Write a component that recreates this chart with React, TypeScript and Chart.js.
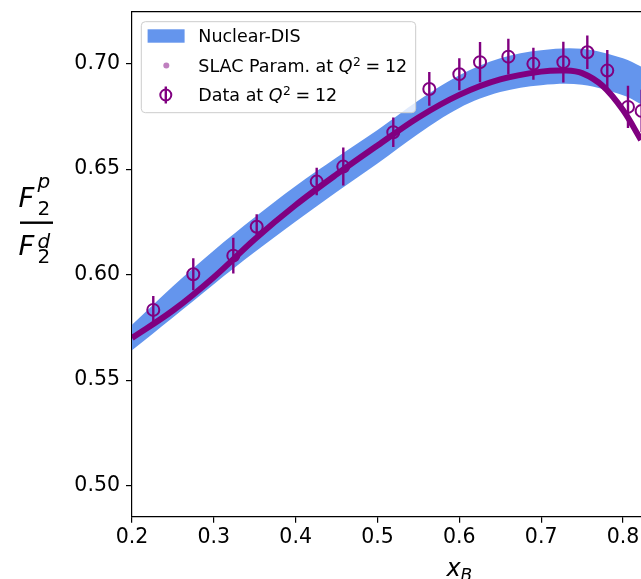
import React, { useEffect, useRef } from "react";
import { Chart, registerables } from "chart.js";

Chart.register(...registerables);

// ---- axis ranges & ticks ----
const X_MIN = 0.2;
const X_MAX = 0.822;
const Y_MIN = 0.4853;
const Y_MAX = 0.7246;
const X_STEP = 0.1;
const Y_STEP = 0.05;
const X_LABEL_CENTER = 0.6; // centre of the full (cropped) x axis

// ---- Nuclear-DIS band ----
const bandX = [0.2, 0.25, 0.3, 0.35, 0.4, 0.45, 0.5, 0.55, 0.6, 0.65, 0.7, 0.75, 0.8, 0.822];
const bandUpper = [0.5762, 0.5945, 0.6115, 0.6272, 0.642, 0.6555, 0.6685, 0.6825, 0.6945, 0.7025, 0.7063, 0.707, 0.7025, 0.6986];
const bandLower = [0.5642, 0.5797, 0.5955, 0.6107, 0.6252, 0.6392, 0.6527, 0.6668, 0.679, 0.6865, 0.6898, 0.69, 0.685, 0.6808];

// ---- SLAC parametrisation at Q^2 = 12 ----
const slacX = [0.2, 0.25, 0.3, 0.35, 0.4, 0.45, 0.5, 0.55, 0.6, 0.65, 0.7, 0.73, 0.75, 0.775, 0.8, 0.822];
const slacY = [0.57, 0.583, 0.5988, 0.6168, 0.633, 0.6475, 0.6612, 0.6745, 0.6852, 0.6925, 0.6962, 0.6967, 0.6955, 0.6895, 0.678, 0.6638];

// ---- Data at Q^2 = 12 ----
const dataX = [0.226, 0.2749, 0.3238, 0.3524, 0.4257, 0.4582, 0.5193, 0.5633, 0.6, 0.6253, 0.6599, 0.6905, 0.7271, 0.7564, 0.7808, 0.8061, 0.8228];
const dataY = [0.5833, 0.6002, 0.609, 0.6227, 0.6441, 0.6512, 0.6675, 0.688, 0.695, 0.7007, 0.7033, 0.6999, 0.7007, 0.7054, 0.6967, 0.6795, 0.6776];
const dataErr = [0.0066, 0.0076, 0.0085, 0.0059, 0.0065, 0.009, 0.007, 0.008, 0.0076, 0.0095, 0.0085, 0.0076, 0.0097, 0.0079, 0.0097, 0.01, 0.01];

const legendLabels = ["Nuclear-DIS", "SLAC Param. at ", "Data at "];

const PURPLE = "#800080";
const BLUE = "#6495ED";
const FONT = "'DejaVu Sans', 'Liberation Sans', sans-serif";

function drawQ2(ctx: CanvasRenderingContext2D, x: number, baseline: number, fs: number, draw: boolean): number {
  let cx = x;
  ctx.font = `italic ${fs}px ${FONT}`;
  if (draw) ctx.fillText("Q", cx, baseline);
  cx += ctx.measureText("Q").width + 0.5;
  ctx.font = `${fs * 0.7}px ${FONT}`;
  if (draw) ctx.fillText("2", cx, baseline - fs * 0.36);
  cx += ctx.measureText("2").width;
  ctx.font = `${fs}px ${FONT}`;
  cx += fs * 0.27;
  if (draw) ctx.fillText("=", cx, baseline);
  cx += ctx.measureText("=").width + fs * 0.27;
  if (draw) ctx.fillText("12", cx, baseline);
  cx += ctx.measureText("12").width;
  return cx - x;
}

const errorBarPlugin = {
  id: "errorBars",
  afterDatasetDraw(chart: any, args: any) {
    if (args.index !== 1) return;
    const { ctx, chartArea } = chart;
    const xs = chart.scales.x;
    const ys = chart.scales.y;
    ctx.save();
    ctx.beginPath();
    ctx.rect(chartArea.left, chartArea.top, chartArea.right - chartArea.left + 20, chartArea.bottom - chartArea.top);
    ctx.clip();
    ctx.strokeStyle = PURPLE;
    ctx.lineWidth = 2.4;
    dataX.forEach((x, i) => {
      const px = xs.getPixelForValue(x);
      ctx.beginPath();
      ctx.moveTo(px, ys.getPixelForValue(dataY[i] - dataErr[i]));
      ctx.lineTo(px, ys.getPixelForValue(dataY[i] + dataErr[i]));
      ctx.stroke();
    });
    ctx.restore();
  },
};

const decorPlugin = {
  id: "decor",
  afterDraw(chart: any) {
    const { ctx, chartArea } = chart;
    const xs = chart.scales.x;
    ctx.save();
    // top spine
    ctx.strokeStyle = "#000";
    ctx.lineWidth = 1.2;
    ctx.beginPath();
    ctx.moveTo(chartArea.left - 0.6, chartArea.top);
    ctx.lineTo(chartArea.right + 1, chartArea.top);
    ctx.stroke();

    ctx.fillStyle = "#000";
    ctx.textBaseline = "alphabetic";
    ctx.textAlign = "left";

    // y label: F_2^p / F_2^d
    const bx = chartArea.left - 112;
    const by = chartArea.top + 211;
    ctx.fillRect(bx, by - 1.2, 33, 2.4);
    const bigF = `italic 27.4px ${FONT}`;
    const supF = `italic 20px ${FONT}`;
    const subF = `20px ${FONT}`;
    ctx.font = bigF;
    ctx.fillText("F", bx - 1.5, by - 16);
    ctx.fillText("F", bx - 1.5, by + 32.3);
    ctx.font = supF;
    ctx.fillText("p", bx + 17.5, by - 34.5);
    ctx.fillText("d", bx + 17.5, by + 25.3);
    ctx.font = subF;
    ctx.fillText("2", bx + 17.5, by - 7.7);
    ctx.fillText("2", bx + 17.5, by + 40.3);

    // x label: x_B
    const cx = xs.getPixelForValue(X_LABEL_CENTER);
    ctx.font = `italic 24px ${FONT}`;
    const wx = ctx.measureText("x").width;
    ctx.font = `italic 17px ${FONT}`;
    const wb = ctx.measureText("B").width;
    const startX = cx - (wx + wb) / 2;
    const base = chartArea.bottom + 59.5;
    ctx.font = `italic 24px ${FONT}`;
    ctx.fillText("x", startX, base);
    ctx.font = `italic 17px ${FONT}`;
    ctx.fillText("B", startX + wx, base + 5);

    // legend
    const fs = 17.5;
    const lx = chartArea.left + 9.3;
    const ly = chartArea.top + 10;
    const textX = lx + 57;
    ctx.font = `${fs}px ${FONT}`;
    const w0 = ctx.measureText(legendLabels[0]).width;
    const w1 = ctx.measureText(legendLabels[1]).width + drawQ2(ctx, 0, 0, fs, false);
    ctx.font = `${fs}px ${FONT}`;
    const w2 = ctx.measureText(legendLabels[2]).width + drawQ2(ctx, 0, 0, fs, false);
    const lw = textX - lx + Math.max(w0, w1, w2) + 8.5;
    const lh = 91;
    ctx.beginPath();
    ctx.roundRect(lx, ly, lw, lh, 4);
    ctx.fillStyle = "rgba(255,255,255,0.8)";
    ctx.fill();
    ctx.strokeStyle = "#cccccc";
    ctx.lineWidth = 1;
    ctx.stroke();

    const rows = [ly + 14.3, ly + 43.8, ly + 73.3];
    const off = fs * 0.365;
    // row 1
    ctx.fillStyle = BLUE;
    ctx.fillRect(lx + 6.3, rows[0] - 6.7, 37, 13.4);
    ctx.fillStyle = "#000";
    ctx.font = `${fs}px ${FONT}`;
    ctx.fillText(legendLabels[0], textX, rows[0] + off);
    // row 2
    ctx.fillStyle = "rgba(128,0,128,0.5)";
    ctx.beginPath();
    ctx.arc(lx + 25, rows[1], 3, 0, Math.PI * 2);
    ctx.fill();
    ctx.fillStyle = "#000";
    ctx.font = `${fs}px ${FONT}`;
    ctx.fillText(legendLabels[1], textX, rows[1] + off);
    const t1 = ctx.measureText(legendLabels[1]).width;
    drawQ2(ctx, textX + t1, rows[1] + off, fs, true);
    // row 3
    ctx.strokeStyle = PURPLE;
    ctx.lineWidth = 2.4;
    ctx.beginPath();
    ctx.moveTo(lx + 24.5, rows[2] - 8.5);
    ctx.lineTo(lx + 24.5, rows[2] + 8.5);
    ctx.stroke();
    ctx.lineWidth = 2;
    ctx.beginPath();
    ctx.arc(lx + 24.5, rows[2], 5.5, 0, Math.PI * 2);
    ctx.stroke();
    ctx.fillStyle = "#000";
    ctx.font = `${fs}px ${FONT}`;
    ctx.fillText(legendLabels[2], textX, rows[2] + off);
    const t2 = ctx.measureText(legendLabels[2]).width;
    drawQ2(ctx, textX + t2, rows[2] + off, fs, true);

    ctx.restore();
  },
};

const zeroPadding = (s: any) => {
  s.paddingLeft = 0;
  s.paddingRight = 0;
  s.paddingTop = 0;
  s.paddingBottom = 0;
};

export default function App() {
  const ref = useRef<HTMLCanvasElement | null>(null);

  useEffect(() => {
    if (!ref.current) return;
    const tickFont = { family: FONT, size: 20.5 };
    const chart = new Chart(ref.current, {
      type: "line",
      data: {
        datasets: [
          {
            label: "Data at Q^2=12",
            data: dataX.map((x, i) => ({ x, y: dataY[i] })),
            showLine: false,
            pointRadius: 6,
            pointHoverRadius: 6,
            pointBorderWidth: 2,
            pointBorderColor: PURPLE,
            pointBackgroundColor: "rgba(0,0,0,0)",
            order: 0,
            clip: false,
          } as any,
          {
            label: "SLAC Param.",
            data: slacX.map((x, i) => ({ x, y: slacY[i] })),
            borderColor: PURPLE,
            borderWidth: 6,
            pointRadius: 0,
            fill: false,
            tension: 0.35,
            order: 1,
            clip: 0,
          } as any,
          {
            label: "Nuclear-DIS upper",
            data: bandX.map((x, i) => ({ x, y: bandUpper[i] })),
            borderWidth: 0,
            borderColor: "rgba(0,0,0,0)",
            backgroundColor: BLUE,
            pointRadius: 0,
            fill: "+1",
            tension: 0.35,
            order: 2,
            clip: 0,
          } as any,
          {
            label: "Nuclear-DIS lower",
            data: bandX.map((x, i) => ({ x, y: bandLower[i] })),
            borderWidth: 0,
            borderColor: "rgba(0,0,0,0)",
            pointRadius: 0,
            fill: false,
            tension: 0.35,
            order: 3,
            clip: 0,
          } as any,
        ],
      },
      options: {
        responsive: false,
        animation: false,
        events: [],
        layout: { autoPadding: false, padding: { top: 11.7, left: 0, right: 0, bottom: 0 } },
        plugins: { legend: { display: false }, tooltip: { enabled: false } },
        scales: {
          x: {
            type: "linear",
            min: X_MIN,
            max: X_MAX,
            afterFit: (s: any) => {
              s.height = 62.3;
              zeroPadding(s);
            },
            grid: { drawOnChartArea: false, drawTicks: true, tickLength: 6, color: "#000", lineWidth: 1.2 },
            border: { display: true, color: "#000", width: 1.2 },
            ticks: {
              stepSize: X_STEP,
              includeBounds: false,
              autoSkip: false,
              maxRotation: 0,
              color: "#000",
              font: tickFont,
              padding: 3,
              callback: (v: any) => Number(v).toFixed(1),
            },
          },
          y: {
            type: "linear",
            min: Y_MIN,
            max: Y_MAX,
            afterFit: (s: any) => {
              s.width = 132;
              zeroPadding(s);
            },
            grid: { drawOnChartArea: false, drawTicks: true, tickLength: 6, color: "#000", lineWidth: 1.2 },
            border: { display: true, color: "#000", width: 1.2 },
            ticks: {
              stepSize: Y_STEP,
              includeBounds: false,
              autoSkip: false,
              color: "#000",
              font: tickFont,
              padding: 6,
              callback: (v: any) => Number(v).toFixed(2),
            },
          },
        },
      } as any,
      plugins: [errorBarPlugin, decorPlugin],
    });
    return () => chart.destroy();
  }, []);

  return (
    <div
      style={{
        position: "fixed",
        left: 0,
        top: 0,
        width: 641,
        height: 579,
        overflow: "hidden",
        background: "#fff",
      }}
    >
      <canvas ref={ref} width={641} height={579} style={{ display: "block", width: 641, height: 579 }} />
    </div>
  );
}
